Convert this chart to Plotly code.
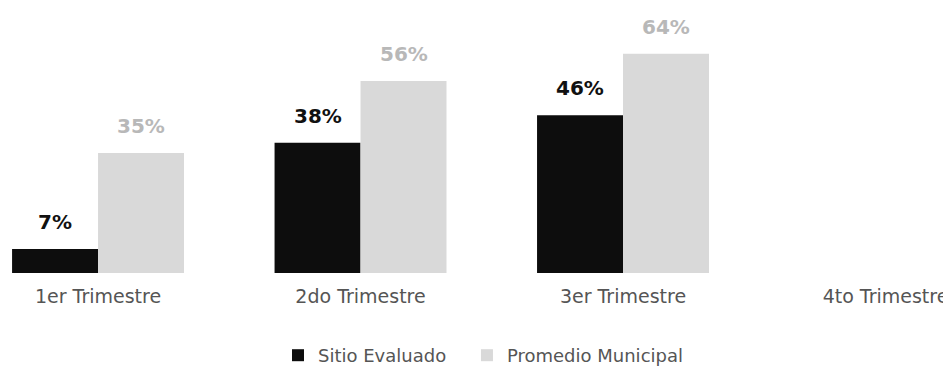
import plotly.graph_objects as go

categories = ["1er Trimestre", "2do Trimestre", "3er Trimestre", "4to Trimestre"]
sitio_values = [7, 38, 46, None]
promedio_values = [35, 56, 64, None]
series_names = ["Sitio Evaluado", "Promedio Municipal"]

FONT = "DejaVu Sans"

fig = go.Figure()
fig.add_trace(go.Bar(
    x=categories, y=sitio_values, name=series_names[0], legend="legend",
    marker=dict(color="#0d0d0d", line=dict(width=0)),
))
fig.add_trace(go.Bar(
    x=categories, y=promedio_values, name=series_names[1], legend="legend2",
    marker=dict(color="#d9d9d9", line=dict(width=0)),
))

annotations = []
for cat, v in zip(categories, sitio_values):
    if v is not None:
        annotations.append(dict(x=cat, y=v, xref="x", yref="y", text=f"{v}%",
                                showarrow=False, xshift=-43, yshift=13, yanchor="bottom",
                                font=dict(family=FONT, size=20, color="#111111", weight="bold")))
for cat, v in zip(categories, promedio_values):
    if v is not None:
        annotations.append(dict(x=cat, y=v, xref="x", yref="y", text=f"{v}%",
                                showarrow=False, xshift=43, yshift=13, yanchor="bottom",
                                font=dict(family=FONT, size=20, color="#b8b8b8", weight="bold")))

legend_style = dict(orientation="h", xanchor="left", y=-0.25, yanchor="top",
                    font=dict(family=FONT, size=18, color="#555555"),
                    itemclick=False, bgcolor="rgba(0,0,0,0)")

fig.update_layout(
    width=951, height=366,
    margin=dict(l=0, r=0, t=8, b=95),
    plot_bgcolor="white", paper_bgcolor="white",
    barmode="group", bargap=0.345, bargroupgap=0,
    annotations=annotations,
    showlegend=True,
    legend=dict(x=0.2839, **legend_style),
    legend2=dict(x=0.4826, **legend_style),
    xaxis=dict(range=[-0.343, 3.28], showgrid=False, zeroline=False, showline=False,
               ticks="", ticklabelstandoff=10,
               tickfont=dict(family=FONT, size=19, color="#555555")),
    yaxis=dict(range=[0, 75], visible=False, showgrid=False, zeroline=False),
)

fig.write_html("out.html")
